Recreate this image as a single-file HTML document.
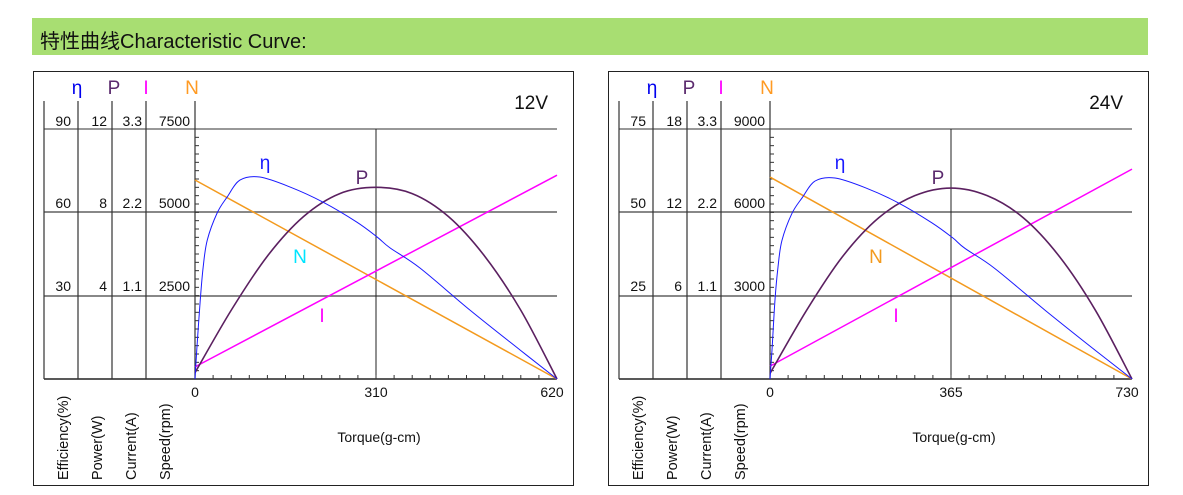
<!DOCTYPE html>
<html><head><meta charset="utf-8"><style>
body{margin:0;background:#fff;width:1183px;height:495px;overflow:hidden;font-family:"Liberation Sans","Noto Sans CJK SC",sans-serif}
#hdr{position:absolute;left:32px;top:18px;width:1116px;height:37px;background:#a8de72}
#hdr span{position:absolute;left:8px;top:7px;font-size:20px;color:#111}
svg{position:absolute;left:0;top:0}
</style></head><body>
<div id="hdr"><span>特性曲线Characteristic Curve:</span></div>
<svg id="svg" width="1183" height="495"></svg>
<script>
// ---- 12V chart data ----
const torqueMax12 = 620;
const torqueTicks12 = ["0","310","620"];
const effTicks12 = ["30","60","90"];
const powTicks12 = ["4","8","12"];
const curTicks12 = ["1.1","2.2","3.3"];
const spdTicks12 = ["2500","5000","7500"];
const speedEnds12 = [5970, 0];
const currentEnds12 = [0.16, 2.69];
const powerT12 = [0,62,124,186,248,310,372,434,496,558,620];
const powerV12 = [0.3,3.3,5.9,7.8,8.9,9.2,8.9,7.8,5.9,3.3,0];
const effT12 = [0,3,9,14,21,38,55,77,111,163,219,277,312,334,385,471,557,620];
const effV12 = [0,10.4,28.4,40.3,50,59.8,65.5,71.6,72.7,69.1,63.7,56.5,51.1,47.2,40,24.8,10.4,0];
// ---- 24V chart data ----
const torqueMax24 = 730;
const torqueTicks24 = ["0","365","730"];
const effTicks24 = ["25","50","75"];
const powTicks24 = ["6","12","18"];
const curTicks24 = ["1.1","2.2","3.3"];
const spdTicks24 = ["3000","6000","9000"];
const speedEnds24 = [7270, 0];
const currentEnds24 = [0.17, 2.77];
const powerT24 = [0,73,146,219,292,365,438,511,584,657,730];
const powerV24 = [0.4,4.9,8.8,11.6,13.2,13.75,13.2,11.6,8.8,4.9,0];
const effT24 = [0,4,10,16,24,44,65,91,131,192,258,326,368,393,453,555,656,730];
const effV24 = [0,8.6,23.6,33.4,41.5,49.6,54.4,59.4,60.3,57.4,52.9,46.9,42.4,39.2,33.2,20.6,8.6,0];

const svg=document.getElementById('svg');
const NS='http://www.w3.org/2000/svg';
function mk(tag,attrs,parent){const e=document.createElementNS(NS,tag);for(const k in attrs)e.setAttribute(k,attrs[k]);(parent||svg).appendChild(e);return e;}
function txt(s,x,y,size,fill,anchor,parent){const t=mk('text',{x:x,y:y,'font-size':size,fill:fill,'text-anchor':anchor||'start','font-family':'Liberation Sans, sans-serif'},parent);t.textContent=s;return t;}

function chart(o){
  const g=mk('g',{});
  
  
  const L=o.bx,pl=o.bx+162,pr=o.bx+162+o.pw,top=129,bot=379;
  const box=mk('rect',{x:L+0.5,y:71.5,width:540,height:414,fill:'none',stroke:'#222','stroke-width':1},g);
  
  const xs=t=>pl+(t/o.tmax)*(pr-pl);
  const colX=[L+11,L+45,L+79,L+113,pl];
  [top,212,296].forEach(y=>{const l=mk('line',{x1:colX[0],x2:pr,y1:y,y2:y,stroke:'#777','stroke-width':y===top?1.5:1.8},g);});
  const ax=mk('line',{x1:colX[0],x2:pr,y1:bot,y2:bot,stroke:'#222','stroke-width':1.5},g);
  colX.forEach((x,i)=>{const l=mk('line',{x1:x,x2:x,y1:101,y2:bot,stroke:'#333','stroke-width':1.2},g);});
  const vg=mk('line',{x1:xs(o.tmax/2),x2:xs(o.tmax/2),y1:top,y2:bot,stroke:'#222','stroke-width':1},g);
  for(let i=1;i<30;i++){const y=bot-i*(bot-top)/30;mk('line',{x1:pl,x2:pl+4,y1:y,y2:y,stroke:'#333','stroke-width':1},g);}
  for(let i=1;i<20;i++){const x=pl+i*(pr-pl)/20;mk('line',{x1:x,x2:x,y1:bot,y2:bot-4,stroke:'#333','stroke-width':1},g);}
  const heads=[['η','#0000ee',-1],['P','#5b2a6e',2],['I','#ff00ff',0],['N','#ff9a22',-3]];
  heads.forEach((h,i)=>{const t=txt(h[0],colX[i+1]+h[2],94,19,h[1],'middle',g);});
  const cols=[o.eff,o.pow,o.cur,o.spd];
  const rowY=[291,208,126];
  const offs=[-7,-5,-4,-5];
  cols.forEach((arr,i)=>arr.forEach((s,j)=>{const t=txt(s,colX[i+1]+offs[i],rowY[j],14,'#111','end',g);}));
  ['Efficiency(%)','Power(W)','Current(A)','Speed(rpm)'].forEach((s,i)=>{const x=colX[i]+24;const t=txt(s,x,480,14.5,'#111','start',g);t.setAttribute('transform','rotate(-90 '+x+' 480)');});
  o.tt.forEach((s,i)=>{const t=txt(s,xs(i*o.tmax/2)-(i==2?5:0),397,14,'#111','middle',g);});
  const xt=txt('Torque(g-cm)',(pl+pr)/2+3,442,14,'#111','middle',g);
  const vt=txt(o.volt,o.bx+515,109,19,'#111','end',g);
  const ysN=v=>bot-(v/o.nmax)*(bot-top), ysI=v=>bot-(v/3.3)*(bot-top), ysP=v=>bot-(v/o.pmax)*(bot-top), ysE=v=>bot-(v/o.emax)*(bot-top);
  const sN=mk('line',{x1:xs(0),y1:ysN(o.speed[0]),x2:xs(o.tmax),y2:ysN(o.speed[1]),stroke:'#f39a1e','stroke-width':1.5},g);
  const sI=mk('line',{x1:xs(0),y1:ysI(o.current[0]),x2:xs(o.tmax),y2:ysI(o.current[1]),stroke:'#ff00ff','stroke-width':1.5},g);
  function curve(T,V,f){const pts=T.map((t,i)=>[xs(t),f(V[i])]);let d='M'+pts[0];for(let i=0;i<pts.length-1;i++){const p0=pts[i-1]||pts[i],p1=pts[i],p2=pts[i+1],p3=pts[i+2]||p2;const c1=[p1[0]+(p2[0]-p0[0])/6,p1[1]+(p2[1]-p0[1])/6],c2=[p2[0]-(p3[0]-p1[0])/6,p2[1]-(p3[1]-p1[1])/6];d+='C'+c1+' '+c2+' '+p2;}return d;}
  const sP=mk('path',{d:curve(o.pT,o.pV,ysP),fill:'none',stroke:'#5b2060','stroke-width':1.6},g);
  const sE=mk('path',{d:curve(o.eT,o.eV,ysE),fill:'none',stroke:'#1a1aff','stroke-width':1},g);
  [['η',o.lab[0],'#1a1aff'],['P',o.lab[1],'#5b2a6e'],['N',o.lab[2],o.ncol],['I',o.lab[3],'#ff00ff']].forEach(a=>{const t=txt(a[0],a[1][0],a[1][1],19,a[2],'middle',g);});
}
chart({name:'chart-12v',bx:33,pw:362,tmax:torqueMax12,tt:torqueTicks12,eff:effTicks12,pow:powTicks12,cur:curTicks12,spd:spdTicks12,volt:'12V',nmax:7500,pmax:12,emax:90,speed:speedEnds12,current:currentEnds12,pT:powerT12,pV:powerV12,eT:effT12,eV:effV12,lab:[[265,169],[362,184],[300,263],[322,322]],ncol:'#00e5ff'});
chart({name:'chart-24v',bx:608,pw:362,tmax:torqueMax24,tt:torqueTicks24,eff:effTicks24,pow:powTicks24,cur:curTicks24,spd:spdTicks24,volt:'24V',nmax:9000,pmax:18,emax:75,speed:speedEnds24,current:currentEnds24,pT:powerT24,pV:powerV24,eT:effT24,eV:effV24,lab:[[840,169],[938,184],[876,263],[896,322]],ncol:'#f39a1e'});
</script>
</body></html>
